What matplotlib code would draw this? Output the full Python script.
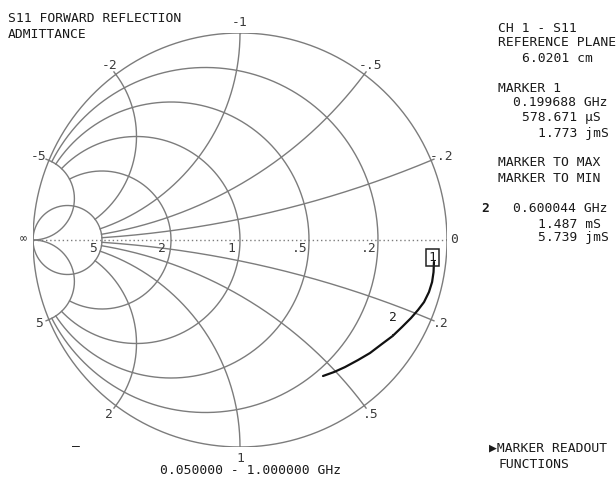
import numpy as np
import matplotlib.pyplot as plt

plt.rcParams['font.family'] = ['DejaVu Sans Mono', 'DejaVu Sans']

W, H = 616, 480
ftSize = 9.4
gridCol = '#7c7c7c'
txtCol = '#1a1a1a'

# smith grid values (normalized admittance)
g_circles = [0.2, 0.5, 1.0, 2.0]
b_arcs = [0.2, 0.5, 1.0, 2.0]
g_max = 5.0
b_marks = [-1, -2, -5, -0.5, -0.2, 0.2, 0.5, 1, 2, 5]
b_texts = ['-1', '-2', '-5', '-.5', '-.2', '.2', '.5', '1', '2', '5']
g_marks = [5, 2, 1, 0.5, 0.2]
g_texts = ['5', '2', '1', '.5', '.2']

# S11 trace (reflection coefficient, 0.05 - 1 GHz)
trace_re = [0.937, 0.935, 0.928, 0.913, 0.889, 0.860, 0.826, 0.783, 0.737,
            0.686, 0.628, 0.570, 0.507, 0.454, 0.401]
trace_im = [-0.106, -0.155, -0.203, -0.251, -0.300, -0.338, -0.377, -0.420,
            -0.464, -0.502, -0.546, -0.580, -0.614, -0.638, -0.657]

# marker readouts (siemens), Z0 = 50 ohm
Y0 = 0.02
mk1_g, mk1_b = 578.671e-6, 1.773e-3
mk2_g, mk2_b = 1.487e-3, 5.739e-3


def gam(y):
    return (1 - y) / (1 + y)


fig = plt.figure(figsize=(W / 100, H / 100), dpi=100)
ax = fig.add_axes([33 / W, 33 / H, 414 / W, 414 / H])
ax.set_xlim(-1, 1)
ax.set_ylim(-1, 1)
ax.set_aspect('equal')
ax.axis('off')

# outer circle g = 0
t = np.linspace(0, 2 * np.pi, 721)
ax.plot(np.cos(t), np.sin(t), color=gridCol, lw=1.0)

# g = 5 full circle
bb = np.tan(np.linspace(-np.pi / 2 + 1e-4, np.pi / 2 - 1e-4, 801))
c = gam(g_max + 1j * bb)
ax.plot(c.real, c.imag, color=gridCol, lw=1.0)

# other g circles, cut at |b| = 5
bb = np.linspace(-5, 5, 1201)
for g in g_circles:
    c = gam(g + 1j * bb)
    ax.plot(c.real, c.imag, color=gridCol, lw=1.0)

# b arcs, cut at g = 5
gg = np.linspace(0, g_max, 801)
for b in b_arcs:
    for s in (1, -1):
        c = gam(gg + 1j * s * b)
        ax.plot(c.real, c.imag, color=gridCol, lw=1.0)

# b = +-5 arcs run into the short point
gg = np.tan(np.linspace(0, np.pi / 2 - 1e-4, 801))
for s in (1, -1):
    c = gam(gg + 1j * s * 5.0)
    ax.plot(c.real, c.imag, color=gridCol, lw=1.0)

# real axis, dotted
ax.plot([-1, 1], [0, 0], color=gridCol, lw=1.0, linestyle=(0, (1, 2)))

# labels round the edge
for b, s in zip(b_marks, b_texts):
    p = gam(1j * b)
    ang = np.angle(p)
    ax.plot([p.real, 1.015 * p.real], [p.imag, 1.015 * p.imag], color=gridCol, lw=1.0)
    ax.annotate(s, xy=(p.real, p.imag), xytext=(11 * np.cos(ang), 11 * np.sin(ang)),
                textcoords='offset pixels', ha='center', va='center',
                fontsize=ftSize, color='#3a3a3a')

# labels on the real axis
for g, s in zip(g_marks, g_texts):
    p = gam(g)
    ax.annotate(s, xy=(p.real, 0), xytext=(-9, -8), textcoords='offset pixels',
                ha='center', va='center', fontsize=ftSize, color='#3a3a3a')
ax.annotate('\u221e', xy=(-1, 0), xytext=(-10, 1), textcoords='offset pixels',
            ha='center', va='center', fontsize=ftSize - 1, color='#3a3a3a')
ax.annotate('0', xy=(1, 0), xytext=(7, 1), textcoords='offset pixels',
            ha='center', va='center', fontsize=ftSize, color='#3a3a3a')

# trace
ax.plot(trace_re, trace_im, color='#111111', lw=1.6, solid_capstyle='round',
        solid_joinstyle='round')

# markers
m1 = gam((mk1_g + 1j * mk1_b) / Y0)
m2 = gam((mk2_g + 1j * mk2_b) / Y0)
ax.annotate('1', xy=(m1.real, m1.imag), xytext=(0, 17), textcoords='offset pixels',
            ha='center', va='center', fontsize=ftSize, color=txtCol,
            bbox=dict(boxstyle='square,pad=0.18', fc='none', ec='#222222', lw=1.1))
ax.annotate('2', xy=(m2.real, m2.imag), xytext=(0, 19), textcoords='offset pixels',
            ha='center', va='center', fontsize=ftSize, color=txtCol,
            arrowprops=dict(arrowstyle='-', color='#222222', lw=1.0, shrinkA=6, shrinkB=0))


def ftext(x, y, s, **kw):
    fig.text(x / W, 1 - y / H, s, ha='left', va='center', fontsize=ftSize, color=txtCol, **kw)


ftext(8, 18, 'S11 FORWARD REFLECTION')
ftext(8, 35, 'ADMITTANCE')

ftext(498, 29, 'CH 1 - S11')
ftext(498, 43, 'REFERENCE PLANE')
ftext(522, 58, '6.0201 cm')
ftext(498, 88, 'MARKER 1')
ftext(513, 103, '0.199688 GHz')
ftext(522, 118, '578.671 \u00b5S')
ftext(538, 133, '1.773 jmS')
ftext(498, 163, 'MARKER TO MAX')
ftext(498, 178, 'MARKER TO MIN')
ftext(481, 209, '2', fontweight='bold')
ftext(513, 209, '0.600044 GHz')
ftext(538, 224, '1.487 mS')
ftext(538, 238, '5.739 jmS')

ftext(489, 448, '\u25b6MARKER READOUT')
ftext(498, 464, 'FUNCTIONS')

ftext(160, 471, '0.050000 - 1.000000 GHz')
ftext(72, 447, '\u2013')

plt.savefig('out.png', dpi=100)
